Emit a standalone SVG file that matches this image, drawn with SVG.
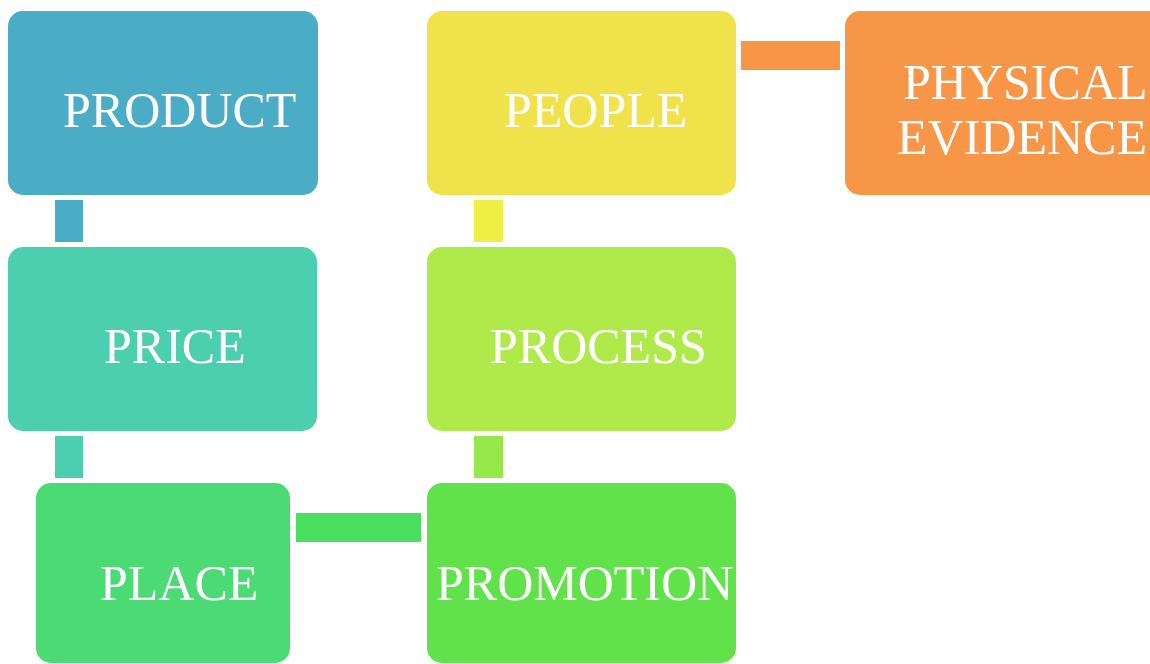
<svg xmlns="http://www.w3.org/2000/svg" width="1150" height="664" viewBox="0 0 1150 664">
<style>
.box{rx:15;ry:15}
.lbl{font-family:"Liberation Serif","Times New Roman",serif;font-size:50px;fill:#ffffff}
</style>
<rect width="1150" height="664" fill="#ffffff"/>
<g id="connectors">
<rect x="55" y="200" width="28" height="42" fill="#4BACC6"/>
<rect x="55" y="436" width="28" height="42" fill="#4BCFAE"/>
<rect x="296" y="513" width="125" height="29" fill="#4ADE5E"/>
<rect x="474" y="436" width="29" height="42" fill="#96E84A"/>
<rect x="474" y="200" width="29" height="42" fill="#EEEE44"/>
<rect x="741" y="41" width="99" height="29" fill="#F79646"/>
</g>
<g id="product">
<rect class="box" x="8" y="11" width="310" height="184" fill="#4BACC6"/>
<text class="lbl" x="63" y="127">PRODUCT</text>
</g>
<g id="price">
<rect class="box" x="8" y="247" width="309" height="184" fill="#4BCFAE"/>
<text class="lbl" x="104" y="363">PRICE</text>
</g>
<g id="place">
<rect class="box" x="36" y="483" width="254" height="180" fill="#4BDA74"/>
<text class="lbl" x="100" y="600">PLACE</text>
</g>
<g id="promotion">
<rect class="box" x="427" y="483" width="309" height="180" fill="#61E24A"/>
<text class="lbl" x="436" y="600">PROMOTION</text>
</g>
<g id="process">
<rect class="box" x="427" y="247" width="309" height="184" fill="#AFEA4A"/>
<text class="lbl" x="490" y="363">PROCESS</text>
</g>
<g id="people">
<rect class="box" x="427" y="11" width="309" height="184" fill="#F0E24A"/>
<text class="lbl" x="504" y="127">PEOPLE</text>
</g>
<g id="physical-evidence">
<rect class="box" x="845" y="11" width="320" height="184" fill="#F79646"/>
<text class="lbl" x="903" y="99">PHYSICAL</text>
<text class="lbl" x="897" y="154">EVIDENCE</text>
</g>
</svg>
